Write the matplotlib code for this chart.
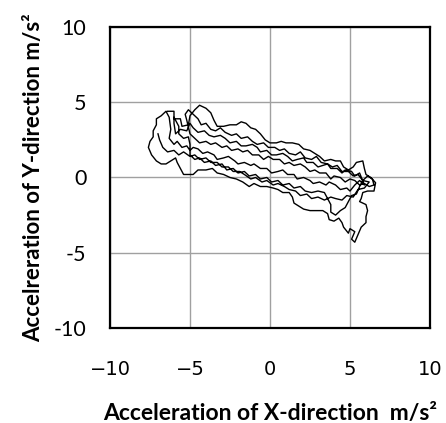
import matplotlib
matplotlib.use('Agg')
import matplotlib.pyplot as plt

# acceleration trajectory, in segments (x, y) in m/s^2
seg1 = [(-6.4, 4.4), (-6.0, 4.4), (-6.0, 3.9), (-5.6, 3.9), (-5.5, 3.4), (-5.1, 3.5), (-5.0, 4.1), (-4.7, 4.5),
        (-4.4, 4.8), (-4.0, 4.6), (-3.7, 4.3), (-3.5, 3.8), (-3.3, 3.4), (-2.9, 3.4), (-2.5, 3.5), (-2.1, 3.5),
        (-1.8, 3.7), (-1.5, 3.6), (-1.2, 3.3), (-0.9, 3.2), (-0.6, 2.9), (-0.3, 2.5), (0.0, 2.3), (0.4, 2.3),
        (0.7, 2.4), (1.0, 2.3), (1.4, 2.3), (1.8, 2.2), (2.1, 1.9), (2.5, 1.8), (2.8, 1.6), (3.1, 1.4),
        (3.4, 1.1), (3.8, 1.2), (4.1, 1.1), (4.4, 1.1), (4.6, 0.7), (4.9, 0.5), (5.2, 0.7), (5.4, 1.0),
        (5.8, 1.1), (5.9, 0.6), (6.0, 0.2), (6.3, 0.0), (6.6, -0.35), (6.5, -0.9), (6.1, -0.9), (5.8, -1.0),
        (5.7, -1.4), (5.6, -1.6), (6.0, -1.8), (6.1, -2.2), (6.0, -2.6), (6.0, -3.0), (5.7, -3.3), (5.5, -3.8),
        (5.3, -4.3), (5.1, -4.1), (5.3, -3.6), (5.0, -3.4)]
seg2 = [(4.9, -3.7), (4.6, -3.3), (4.5, -3.0), (4.3, -2.7), (4.0, -2.9), (3.7, -2.8), (3.6, -2.4), (3.3, -2.2),
        (2.9, -2.2), (2.5, -2.2), (2.1, -2.1), (1.8, -1.9), (1.5, -1.7), (1.4, -1.3), (1.2, -1.0), (0.8, -1.0),
        (0.5, -0.8), (0.2, -0.7), (-0.2, -0.6), (-0.6, -0.6), (-1.0, -0.4), (-1.3, -0.6), (-1.7, -0.3),
        (-2.1, -0.1), (-2.5, 0.0), (-2.9, 0.2), (-3.3, 0.3), (-3.6, 0.6), (-4.0, 0.5), (-4.5, 0.5), (-4.8, 0.2),
        (-5.1, 0.2), (-5.4, 0.2), (-5.6, 0.6), (-5.8, 1.0), (-5.9, 1.3), (-6.2, 1.1), (-6.5, 0.9), (-6.8, 0.9),
        (-7.1, 1.1), (-7.4, 1.5), (-7.6, 2.0), (-7.5, 2.4), (-7.3, 2.7), (-7.3, 3.1), (-7.1, 3.5), (-7.1, 3.9),
        (-6.8, 4.1), (-6.5, 4.4)]
seg3 = [(-6.3, 4.0), (-6.2, 3.2), (-6.3, 2.6), (-6.0, 2.2), (-5.8, 2.4), (-5.5, 2.0), (-5.2, 2.1), (-5.0, 1.8),
        (-4.8, 2.0), (-4.5, 1.9), (-4.2, 1.6), (-3.9, 1.7), (-3.5, 1.5), (-3.3, 1.2), (-2.9, 1.3), (-2.6, 1.4),
        (-2.2, 1.1), (-2.0, 0.9), (-1.6, 1.0), (-1.2, 0.8), (-1.0, 0.9), (-0.6, 0.6), (-0.2, 0.6), (0.1, 0.3),
        (0.5, 0.4), (0.8, 0.5), (1.1, 0.2), (1.5, 0.2), (1.7, -0.1), (2.1, 0.0), (2.5, -0.2), (2.7, -0.4),
        (3.1, -0.3), (3.5, -0.5), (3.7, -0.3), (4.1, -0.5), (4.4, -0.8), (4.8, -0.7), (5.0, -0.9), (5.3, -0.5),
        (5.6, -0.2), (5.9, -0.5)]
seg4 = [(5.6, 0.3), (5.3, 0.1), (5.1, 0.4), (4.7, 0.5), (4.5, 0.3), (4.2, 0.6), (3.8, 0.6), (3.6, 0.9),
        (3.3, 0.8), (3.0, 0.7), (2.7, 1.0), (2.3, 1.0), (2.1, 1.3), (1.7, 1.2), (1.4, 1.1), (1.1, 1.4),
        (0.8, 1.6), (0.4, 1.5), (0.1, 1.5), (-0.2, 1.8), (-0.6, 1.7), (-0.8, 2.0), (-1.1, 2.2), (-1.5, 2.1),
        (-1.8, 2.1), (-2.1, 2.4), (-2.5, 2.3), (-2.8, 2.6), (-3.1, 2.8), (-3.5, 2.7), (-3.8, 2.8), (-4.1, 3.1),
        (-4.5, 3.0), (-4.8, 3.3), (-5.0, 3.6), (-5.2, 3.1), (-5.6, 3.2), (-5.9, 2.9), (-6.0, 3.6), (-6.0, 4.0)]
seg5 = [(-5.7, 3.4), (-5.7, 2.9), (-5.4, 2.6), (-5.1, 2.7), (-5.0, 2.2), (-5.0, 1.5), (-4.7, 1.2), (-4.4, 1.3),
        (-4.1, 1.0), (-3.7, 1.1), (-3.4, 0.8), (-3.0, 0.9), (-2.7, 0.5), (-2.3, 0.6), (-2.0, 0.3), (-1.6, 0.4),
        (-1.3, 0.1), (-0.9, 0.2), (-0.6, -0.1), (-0.2, 0.0), (0.1, -0.3), (0.5, -0.2), (0.8, -0.5), (1.2, -0.4),
        (1.5, -0.7), (1.9, -0.6), (2.2, -0.9), (2.6, -1.0), (3.0, -0.9), (3.4, -1.0), (3.6, -1.4), (3.8, -1.8),
        (3.8, -2.3), (4.1, -2.5), (4.4, -2.2), (4.7, -2.0), (4.9, -1.6), (5.1, -1.2), (5.4, -1.1), (5.6, -0.6),
        (5.8, -0.2), (6.1, 0.1), (6.4, -0.1), (6.5, -0.5)]
seg6 = [(6.2, -0.6), (5.9, -0.4), (5.6, -0.5), (5.3, -0.2), (5.0, -0.1), (4.7, -0.3), (4.4, 0.0), (4.0, 0.1),
        (3.8, -0.1), (3.5, 0.3), (3.1, 0.3), (2.8, 0.5), (2.5, 0.4), (2.2, 0.7), (1.9, 0.9), (1.5, 0.8),
        (1.2, 1.0), (0.9, 0.9), (0.6, 1.2), (0.2, 1.2), (-0.1, 1.4), (-0.4, 1.2), (-0.7, 1.5), (-1.1, 1.5),
        (-1.4, 1.8), (-1.7, 1.7), (-2.0, 1.9), (-2.4, 1.8), (-2.7, 2.1), (-3.0, 2.0), (-3.4, 2.3), (-3.7, 2.2),
        (-4.0, 2.4), (-4.4, 2.3), (-4.7, 2.6), (-5.0, 2.9), (-5.2, 3.8), (-5.3, 4.2), (-5.1, 4.5)]
seg7 = [(-4.8, 4.2), (-4.5, 3.9), (-4.3, 3.5), (-4.0, 3.6), (-3.7, 3.2), (-3.4, 3.1), (-3.1, 3.3), (-2.8, 3.0),
        (-2.4, 2.8), (-2.1, 2.9), (-1.8, 2.6), (-1.4, 2.7), (-1.1, 2.4), (-0.8, 2.2), (-0.4, 2.3), (-0.1, 2.0),
        (0.3, 2.0), (0.6, 1.8), (0.9, 1.9), (1.2, 1.6), (1.6, 1.5), (1.9, 1.7), (2.2, 1.3), (2.6, 1.2),
        (2.9, 1.4), (3.2, 1.0), (3.6, 0.9), (3.9, 0.7), (4.2, 0.8), (4.5, 0.4), (4.9, 0.4), (5.2, 0.1),
        (5.5, 0.2), (5.8, -0.2), (6.2, -0.3)]
seg8 = [(5.9, -0.7), (5.5, -0.8), (5.2, -1.3), (4.8, -1.2), (4.5, -1.5), (4.1, -1.4), (3.8, -1.3), (3.4, -1.5),
        (3.0, -1.3), (2.6, -1.4), (2.3, -1.1), (1.9, -1.2), (1.6, -0.9), (1.2, -0.8), (0.9, -0.6), (0.5, -0.4),
        (0.2, -0.5), (-0.2, -0.2), (-0.5, -0.3), (-0.9, 0.0), (-1.2, -0.1), (-1.6, 0.2), (-1.9, 0.4),
        (-2.3, 0.4), (-2.6, 0.7), (-3.0, 0.7), (-3.3, 1.0), (-3.7, 1.0), (-4.0, 1.3), (-4.4, 1.2), (-4.7, 1.5),
        (-5.0, 1.4), (-5.4, 1.7), (-5.7, 1.5), (-6.0, 1.8), (-6.4, 1.7), (-6.7, 2.0), (-6.9, 2.5), (-7.0, 2.9)]

x_ticks = [-10, -5, 0, 5, 10]
x_tick_labels = ['\u221210', '\u22125', '0', '5', '10']
y_ticks = [-10, -5, 0, 5, 10]
y_tick_labels = ['-10', '-5', '0', '5', '10']

path = seg1 + seg2 + seg3 + seg4 + seg5 + seg6 + seg7 + seg8
acc_x = [p[0] for p in path]
acc_y = [p[1] for p in path]

plt.rcParams['font.family'] = ['Lato', 'DejaVu Sans']

fig = plt.figure(figsize=(4.46, 4.23), dpi=100)
ax = fig.add_axes([0.2466, 0.2246, 0.7175, 0.7116])

ax.plot(acc_x, acc_y, color='black', linewidth=1.0)

ax.set_xlim(-10, 10)
ax.set_ylim(-10, 10)
ax.set_xticks(x_ticks)
ax.set_xticklabels(x_tick_labels, fontfamily='DejaVu Sans')
ax.set_yticks(y_ticks)
ax.set_yticklabels(y_tick_labels)
ax.tick_params(axis='x', length=0, pad=23, labelsize=14)
ax.tick_params(axis='y', length=0, pad=17, labelsize=15.5)

ax.grid(True, color='#a0a0a0', linewidth=1.0)
ax.set_axisbelow(True)
for s in ax.spines.values():
    s.set_linewidth(1.6)
    s.set_color('black')

ax.set_xlabel('Acceleration of X-direction  m/s\u00b2', fontsize=16.5, fontweight='bold', labelpad=17)
ax.set_ylabel('Accelreration of Y-direction m/s\u00b2', fontsize=16, fontweight='bold', labelpad=7)

fig.savefig('out.png', dpi=100)
